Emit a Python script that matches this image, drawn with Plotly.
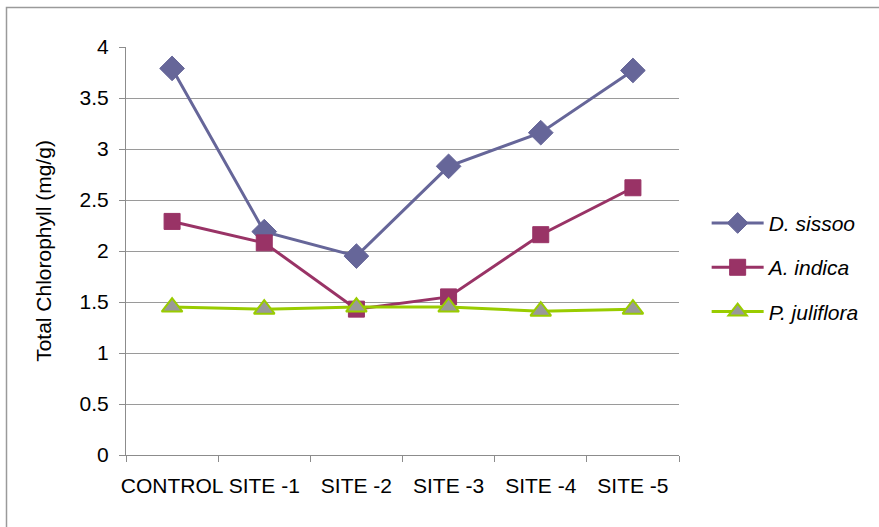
import plotly.graph_objects as go

# Sampling sites and total chlorophyll content (mg/g) for each species
sites = ["CONTROL", "SITE -1", "SITE -2", "SITE -3", "SITE -4", "SITE -5"]
d_sissoo = [3.79, 2.19, 1.95, 2.83, 3.16, 3.77]
a_indica = [2.29, 2.08, 1.43, 1.55, 2.16, 2.62]
p_juliflora = [1.45, 1.43, 1.45, 1.45, 1.41, 1.43]

y_ticks = [0, 0.5, 1, 1.5, 2, 2.5, 3, 3.5, 4]

FONT = "Liberation Sans, Arial, sans-serif"

fig = go.Figure()

fig.add_trace(go.Scatter(
    x=sites, y=d_sissoo, name="D. sissoo", mode="lines+markers",
    legendgroup="a",
    line=dict(color="#666699", width=3),
    marker=dict(symbol="diamond", size=19, color="#666699",
                line=dict(color="#666699", width=1)),
))
fig.add_trace(go.Scatter(
    x=sites, y=a_indica, name="A. indica", mode="lines+markers",
    legendgroup="b",
    line=dict(color="#993366", width=3),
    marker=dict(symbol="square", size=16, color="#993366",
                line=dict(color="#993366", width=1)),
))
fig.add_trace(go.Scatter(
    x=sites, y=p_juliflora, name="P. juliflora", mode="lines+markers",
    legendgroup="c",
    line=dict(color="#99CC00", width=3),
    marker=dict(symbol="triangle-up", size=18, color="#999999",
                line=dict(color="#99CC00", width=2)),
))

fig.update_layout(
    width=879, height=527,
    margin=dict(l=126, r=200, t=47, b=72),
    paper_bgcolor="white", plot_bgcolor="white",
    font=dict(family=FONT, size=20, color="black"),
    showlegend=True,
    legend=dict(
        x=1.05, y=0.46, xanchor="left", yanchor="middle",
        font=dict(family=FONT, size=21, color="black", style="italic"),
        itemwidth=52, traceorder="grouped", tracegroupgap=14,
        bgcolor="rgba(0,0,0,0)",
    ),
    xaxis=dict(
        type="category", range=[-0.5, 5.5], automargin=False,
        showline=True, linecolor="#8c8c8c", linewidth=1,
        ticks="outside", tickson="boundaries", ticklen=6, tickcolor="#8c8c8c",
        showgrid=False, zeroline=False, tickangle=0,
        tickfont=dict(family=FONT, size=21, color="black"),
        ticklabelstandoff=12,
    ),
    yaxis=dict(
        range=[0, 4], tickvals=y_ticks, automargin=False,
        ticktext=[f"{v:g}" for v in y_ticks],
        showline=True, linecolor="#8c8c8c", linewidth=1,
        ticks="outside", ticklen=6, tickcolor="#8c8c8c",
        showgrid=True, gridcolor="#9a9a9a", gridwidth=1,
        zeroline=False, ticklabelstandoff=6,
        tickfont=dict(family=FONT, size=21, color="black"),
        title=dict(text="Total Chlorophyll (mg/g)",
                   font=dict(family=FONT, size=21, color="black"),
                   standoff=22),
    ),
    shapes=[dict(
        type="rect", xref="paper", yref="paper",
        x0=(6.5 - 126) / 553, x1=1.5, y0=-0.5, y1=(455 - 7.5) / 408,
        line=dict(color="#9a9a9a", width=1.5), fillcolor="rgba(0,0,0,0)",
        layer="below",
    )],
)

fig.write_html("out.html")
